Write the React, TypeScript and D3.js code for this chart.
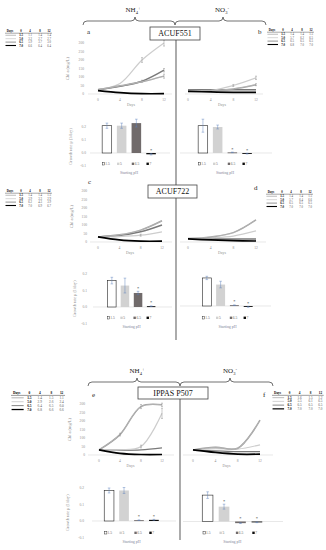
import React from 'react';
import * as d3 from 'd3';

const serif = "'Liberation Serif', 'Times New Roman', serif";

const days = [0, 4, 8, 12];
const phStart = ['1.5', '5.0', '6.5', '7.0'];
const barKeys = ['1.5', '5', '6.5', '7'];
const chlTicks = [0, 50, 100, 150, 200, 250, 300];
const muTicks = [-0.1, 0, 0.1, 0.2];

// Chl a (mg/L) per starting pH (1.5, 5.0, 6.5, 7.0) at days 0/4/8/12
const chlA = [[25, 48, 72, 105], [28, 62, 200, 300], [25, 45, 75, 140], [20, 8, 2, 2]];
const chlAErr = [[0, 0, 0, 12], [0, 0, 14, 18], [0, 0, 6, 10], [0, 0, 0, 0]];
const chlB = [[20, 20, 30, 55], [20, 20, 50, 95], [25, 25, 25, 25], [15, 12, 10, 10]];
const chlBErr = [[0, 0, 0, 6], [0, 0, 6, 10], [0, 0, 0, 0], [0, 0, 0, 0]];
const chlC = [[30, 42, 70, 125], [30, 32, 40, 60], [30, 38, 60, 100], [30, 12, 5, 5]];
const chlCErr = [[0, 0, 0, 0], [0, 0, 6, 0], [0, 0, 0, 0], [0, 0, 0, 0]];
const chlD = [[20, 30, 55, 130], [20, 25, 35, 65], [20, 18, 18, 18], [18, 12, 8, 6]];
const chlDErr = [[0, 0, 0, 0], [0, 0, 0, 0], [0, 0, 0, 0], [0, 0, 0, 0]];
const chlE = [[30, 120, 285, 295], [30, 30, 50, 245], [30, 28, 30, 42], [30, 10, 3, 3]];
const chlEErr = [[0, 8, 12, 10], [0, 0, 8, 30], [0, 0, 0, 0], [0, 0, 0, 0]];
const chlF = [[30, 45, 40, 205], [30, 38, 35, 60], [28, 24, 20, 20], [30, 15, 5, 5]];
const chlFErr = [[0, 0, 0, 0], [0, 0, 0, 0], [0, 0, 0, 0], [0, 0, 0, 0]];

// growth rate mu (1/day) per starting pH
const muA = [0.21, 0.21, 0.23, -0.01];
const muAErr = [0.02, 0.02, 0.03, 0.005];
const muB = [0.21, 0.2, 0.005, -0.005];
const muBErr = [0.05, 0.015, 0.002, 0.003];
const muC = [0.16, 0.13, 0.085, 0.005];
const muCErr = [0.02, 0.045, 0.01, 0.002];
const muD = [0.17, 0.13, 0.005, -0.005];
const muDErr = [0.01, 0.02, 0.002, 0.003];
const muE = [0.185, 0.185, 0.005, 0.007];
const muEErr = [0.015, 0.018, 0.002, 0.003];
const muF = [0.16, 0.09, -0.01, -0.005];
const muFErr = [0.02, 0.015, 0.002, 0.002];
const starsA = [false, false, false, true];
const starsBE = [false, false, true, true];
const starsF = [false, true, true, true];

// medium pH at days 4/8/12
const phA = [[1.1, 1.4, 1.4], [3.2, 2.7, 2.7], [5.9, 3.7, 3.0], [6.6, 6.4, 6.4]];
const phB = [[1.4, 1.4, 1.5], [5.7, 6.2, 6.5], [6.5, 6.5, 6.5], [6.8, 7.0, 7.0]];
const phC = [[1.4, 1.4, 1.5], [3.9, 3.3, 2.9], [6.2, 4.3, 3.9], [7.0, 6.9, 6.7]];
const phD = [[1.4, 1.4, 1.5], [5.7, 6.4, 6.6], [6.5, 6.5, 6.5], [7.0, 7.0, 7.0]];
const phE = [[1.4, 1.5, 1.1], [2.9, 2.6, 2.4], [6.4, 6.5, 6.0], [6.8, 6.6, 6.6]];
const phF = [[1.6, 1.5, 1.2], [5.5, 6.1, 6.5], [6.5, 6.5, 6.5], [7.0, 7.0, 7.0]];

const lineColors = ['#999', '#cdcdcd', '#7a7a7a', '#000'];
const lineWidths = [1.5, 1.2, 1.4, 1.7];
const barFills = ['#fff', '#d2d2d2', '#716b6b', '#0d0d0d'];
const tickColor = '#8c8c8c';

const PhTable = ({ x, y, s, rows }) => {
  const cols = [16, 25, 35, 44];
  return (
    <g transform={`translate(${x},${y}) scale(${s})`} fontSize={3} fontFamily={serif}>
      <text x={5} textAnchor="middle" fontWeight="bold">Days</text>
      {days.map((d, i) => (
        <text key={d} x={cols[i]} textAnchor="middle" fontWeight="bold">{d}</text>
      ))}
      <line x1={0} x2={47} y1={1.2} y2={1.2} stroke="#000" strokeWidth={0.35} />
      {rows.map((r, i) => {
        const by = 4.3 + i * 3.4;
        return (
          <g key={i}>
            <line x1={0.5} x2={11} y1={by - 1} y2={by - 1} stroke={lineColors[i]} strokeWidth={i === 3 ? 1.1 : 0.8} />
            {i === 0 && <line x1={0.5} x2={11} y1={by - 1} y2={by - 1} stroke="#fff" strokeWidth={0.3} />}
            <text x={cols[0]} y={by} textAnchor="middle" fontWeight="bold">{phStart[i]}</text>
            {r.map((v, j) => (
              <text key={j} x={cols[j + 1]} y={by} textAnchor="middle" fill="#555">{v.toFixed(1)}</text>
            ))}
          </g>
        );
      })}
    </g>
  );
};

const LineChart = ({ cfg, series, errs }) => {
  const x = d3.scaleLinear([0, 12], [cfg.x0, cfg.x1]);
  const y = d3.scaleLinear([0, 300], [cfg.base, cfg.top]);
  const line = d3.line<number>().x((_, i) => x(days[i])).y((d) => y(d)).curve(d3.curveCatmullRom.alpha(0.5));
  return (
    <g fontFamily={serif}>
      <line x1={cfg.ax0} x2={cfg.ax1} y1={y(0)} y2={y(0)} stroke="#d9d9d9" strokeWidth={0.6} />
      {cfg.showY && chlTicks.map((t) => (
        <text key={t} x={cfg.tickX} y={y(t) + 1.2} textAnchor="end" fontSize={3.6} fill={tickColor}>{t}</text>
      ))}
      {cfg.showY && (
        <text transform={`translate(${cfg.labelX},${(cfg.base + cfg.top) / 2}) rotate(-90)`} textAnchor="middle" fontSize={4.4} fill={tickColor}>
          Chl a (mg/L)
        </text>
      )}
      {days.map((d) => (
        <text key={d} x={x(d)} y={y(0) + 7} textAnchor="middle" fontSize={3.6} fill={tickColor}>{d}</text>
      ))}
      <text x={(cfg.x0 + cfg.x1) / 2} y={y(0) + 12} textAnchor="middle" fontSize={3.8} fill={tickColor}>Days</text>
      {[2, 1, 0, 3].map((i) => (
        <g key={i}>
          <path d={line(series[i]) || ''} fill="none" stroke={lineColors[i]} strokeWidth={lineWidths[i]} />
          {i === 0 && <path d={line(series[i]) || ''} fill="none" stroke="#f2f2f2" strokeWidth={0.3} />}
          {errs[i].map((e, j) => e > 0 && (
            <g key={j} stroke="#8a8a8a" strokeWidth={0.45}>
              <line x1={x(days[j])} x2={x(days[j])} y1={y(series[i][j] - e)} y2={y(series[i][j] + e)} />
              <line x1={x(days[j]) - 1} x2={x(days[j]) + 1} y1={y(series[i][j] - e)} y2={y(series[i][j] - e)} />
              <line x1={x(days[j]) - 1} x2={x(days[j]) + 1} y1={y(series[i][j] + e)} y2={y(series[i][j] + e)} />
            </g>
          ))}
        </g>
      ))}
    </g>
  );
};

const BarChart = ({ cfg, values, errs, stars }) => {
  const band = d3.scaleBand(barKeys, [cfg.r0, cfg.r1]).padding(0.35);
  const y = d3.scaleLinear([-0.1, 0.2], [cfg.lo, cfg.hi]);
  const bw = band.bandwidth();
  return (
    <g fontFamily={serif}>
      <line x1={cfg.ax0} x2={cfg.ax1} y1={y(0)} y2={y(0)} stroke="#d9d9d9" strokeWidth={0.6} />
      {cfg.showY && muTicks.map((t) => (
        <text key={t} x={cfg.tickX} y={y(t) + 1.2} textAnchor="end" fontSize={3.6} fill={tickColor}>{t.toFixed(1)}</text>
      ))}
      {cfg.showY && (
        <text transform={`translate(${cfg.labelX},${y(0.05)}) rotate(-90)`} textAnchor="middle" fontSize={4.2} fill={tickColor}>
          Growth rate μ (1/day)
        </text>
      )}
      {barKeys.map((k, i) => {
        const v = values[i];
        const top = Math.min(y(v), y(0));
        const h = Math.max(Math.abs(y(v) - y(0)), 0.9);
        const bx = band(k) || 0;
        const cx = bx + bw / 2;
        const e = errs[i];
        const hiE = y(v + e);
        return (
          <g key={k}>
            <rect x={bx} y={top} width={bw} height={h} fill={barFills[i]} stroke={i === 0 ? '#222' : 'none'} strokeWidth={0.6} />
            <g stroke="#5a80bd" strokeWidth={0.45}>
              <line x1={cx} x2={cx} y1={y(v - e)} y2={hiE} />
              <line x1={cx - 1.3} x2={cx + 1.3} y1={y(v - e)} y2={y(v - e)} />
              <line x1={cx - 1.3} x2={cx + 1.3} y1={hiE} y2={hiE} />
            </g>
            {stars[i] && (
              <text x={cx} y={Math.min(hiE, y(0)) - 1.5} textAnchor="middle" fontSize={4.5} fill="#333">*</text>
            )}
            <rect x={cx - 4.6} y={cfg.legendY - 2.4} width={2.4} height={2.4} fill={barFills[i]} stroke={i === 0 ? '#222' : 'none'} strokeWidth={0.45} />
            <text x={cx - 1.6} y={cfg.legendY} fontSize={3.6} fill="#666">{k}</text>
          </g>
        );
      })}
      <text x={(cfg.r0 + cfg.r1) / 2} y={cfg.titleY} textAnchor="middle" fontSize={3.9} fill="#7f8599">Starting pH</text>
    </g>
  );
};

const Brace = ({ x1, x2, xm, yb, ym, yt }) => {
  const r = 4;
  const d = `M${x1},${yb} Q${x1},${ym} ${x1 + r},${ym} L${xm - r},${ym} Q${xm},${ym} ${xm},${yt} Q${xm},${ym} ${xm + r},${ym} L${x2 - r},${ym} Q${x2},${ym} ${x2},${yb}`;
  return <path d={d} fill="none" stroke="#333" strokeWidth={0.7} />;
};

const Ion = ({ x, y, kind }) => (
  <text x={x} y={y} textAnchor="middle" fontFamily={serif} fontSize={7} fill="#222">
    {kind === 'nh4' ? (
      <>NH<tspan fontSize={4.5} dy={1.5}>4</tspan><tspan fontSize={4.5} dy={-4}>+</tspan></>
    ) : (
      <>NO<tspan fontSize={4.5} dy={1.5}>3</tspan><tspan fontSize={4.5} dy={-4}>-</tspan></>
    )}
  </text>
);

const Strain = ({ x, y, w, h, label }) => (
  <g>
    <rect x={x} y={y} width={w} height={h} fill="#fff" stroke="#444" strokeWidth={0.8} />
    <text x={x + w / 2} y={y + h / 2 + 2.8} textAnchor="middle" fontFamily={serif} fontSize={8} fill="#111">{label}</text>
  </g>
);

const panels = [
  {
    letter: 'a', lx: 87, ly: 34, chl: chlA, chlErr: chlAErr, mu: muA, muErr: muAErr, stars: starsA, ph: phA,
    table: { x: 5, y: 32, s: 1 },
    line: { x0: 98, x1: 164, base: 94, top: 43, ax0: 88, ax1: 172, tickX: 84, labelX: 69, showY: true },
    bar: { r0: 97, r1: 161, lo: 166, hi: 127, ax0: 90, ax1: 170, tickX: 86, labelX: 72, showY: true, legendY: 165, titleY: 174 },
  },
  {
    letter: 'b', lx: 258, ly: 34, chl: chlB, chlErr: chlBErr, mu: muB, muErr: muBErr, stars: starsBE, ph: phB,
    table: { x: 267, y: 31, s: 1 },
    line: { x0: 188, x1: 256, base: 94, top: 43, ax0: 185, ax1: 263, showY: false },
    bar: { r0: 193, r1: 257, lo: 166, hi: 127, ax0: 180, ax1: 272, showY: false, legendY: 165, titleY: 174 },
  },
  {
    letter: 'c', lx: 88, ly: 184, chl: chlC, chlErr: chlCErr, mu: muC, muErr: muCErr, stars: starsBE, ph: phC,
    table: { x: 5, y: 192, s: 1 },
    line: { x0: 98, x1: 162, base: 242, top: 191, ax0: 90, ax1: 172, tickX: 87, labelX: 73, showY: true },
    bar: { r0: 103, r1: 160, lo: 323.5, hi: 274, ax0: 93, ax1: 172, tickX: 87, labelX: 76, showY: true, legendY: 319, titleY: 328 },
  },
  {
    letter: 'd', lx: 254, ly: 190, chl: chlD, chlErr: chlDErr, mu: muD, muErr: muDErr, stars: starsBE, ph: phD,
    table: { x: 266, y: 193, s: 1 },
    line: { x0: 188, x1: 256, base: 242, top: 191, ax0: 180, ax1: 266, showY: false },
    bar: { r0: 197.5, r1: 257.5, lo: 322.5, hi: 273, ax0: 180, ax1: 271, showY: false, legendY: 319, titleY: 328 },
  },
  {
    letter: 'e', lx: 92, ly: 397, chl: chlE, chlErr: chlEErr, mu: muE, muErr: muEErr, stars: starsBE, ph: phE,
    table: { x: 11, y: 394, s: 1.15 },
    line: { x0: 99, x1: 162, base: 455, top: 404, ax0: 88, ax1: 174, tickX: 85, labelX: 71, showY: true },
    bar: { r0: 99, r1: 164, lo: 537.5, hi: 488, ax0: 92, ax1: 176, tickX: 84, labelX: 69, showY: true, legendY: 534, titleY: 543 },
  },
  {
    letter: 'f', lx: 263, ly: 397, chl: chlF, chlErr: chlFErr, mu: muF, muErr: muFErr, stars: starsF, ph: phF,
    table: { x: 272, y: 394, s: 1.1 },
    line: { x0: 193, x1: 260, base: 455, top: 404, ax0: 183, ax1: 273, showY: false },
    bar: { r0: 196.5, r1: 268, lo: 538, hi: 488.5, ax0: 183, ax1: 283, showY: false, legendY: 534, titleY: 543 },
  },
];

export default function App() {
  return (
    <svg width={326} height={550} style={{ position: 'absolute', left: 0, top: 0, background: '#fff' }}>
      <rect width={326} height={550} fill="#fff" />
      {/* dividers */}
      <line x1={176} x2={176} y1={40} y2={185} stroke="#7f7f7f" strokeWidth={1.3} />
      <line x1={176} x2={176} y1={198} y2={340} stroke="#7f7f7f" strokeWidth={1.3} />
      <line x1={180} x2={180} y1={399} y2={540} stroke="#7f7f7f" strokeWidth={1.3} />

      <Ion x={133} y={12} kind="nh4" />
      <Ion x={222} y={12} kind="no3" />
      <Brace x1={83} x2={175} xm={135} yb={25} ym={21} yt={17} />
      <Brace x1={175} x2={266} xm={223} yb={25} ym={21} yt={17} />

      <Ion x={137} y={373} kind="nh4" />
      <Ion x={230} y={373} kind="no3" />
      <Brace x1={88} x2={180} xm={137} yb={386} ym={382} yt={378} />
      <Brace x1={180} x2={273} xm={230} yb={386} ym={382} yt={378} />

      {panels.map((p) => (
        <g key={p.letter}>
          <text x={p.lx} y={p.ly} fontFamily={serif} fontSize={7} fill="#222">{p.letter}</text>
          <PhTable x={p.table.x} y={p.table.y} s={p.table.s} rows={p.ph} />
          <LineChart cfg={p.line} series={p.chl} errs={p.chlErr} />
          <BarChart cfg={p.bar} values={p.mu} errs={p.muErr} stars={p.stars} />
        </g>
      ))}

      <Strain x={150} y={27} w={50} h={13} label="ACUF551" />
      <Strain x={148} y={185} w={49} h={13} label="ACUF722" />
      <Strain x={138} y={387} w={70} h={12} label="IPPAS P507" />
    </svg>
  );
}
